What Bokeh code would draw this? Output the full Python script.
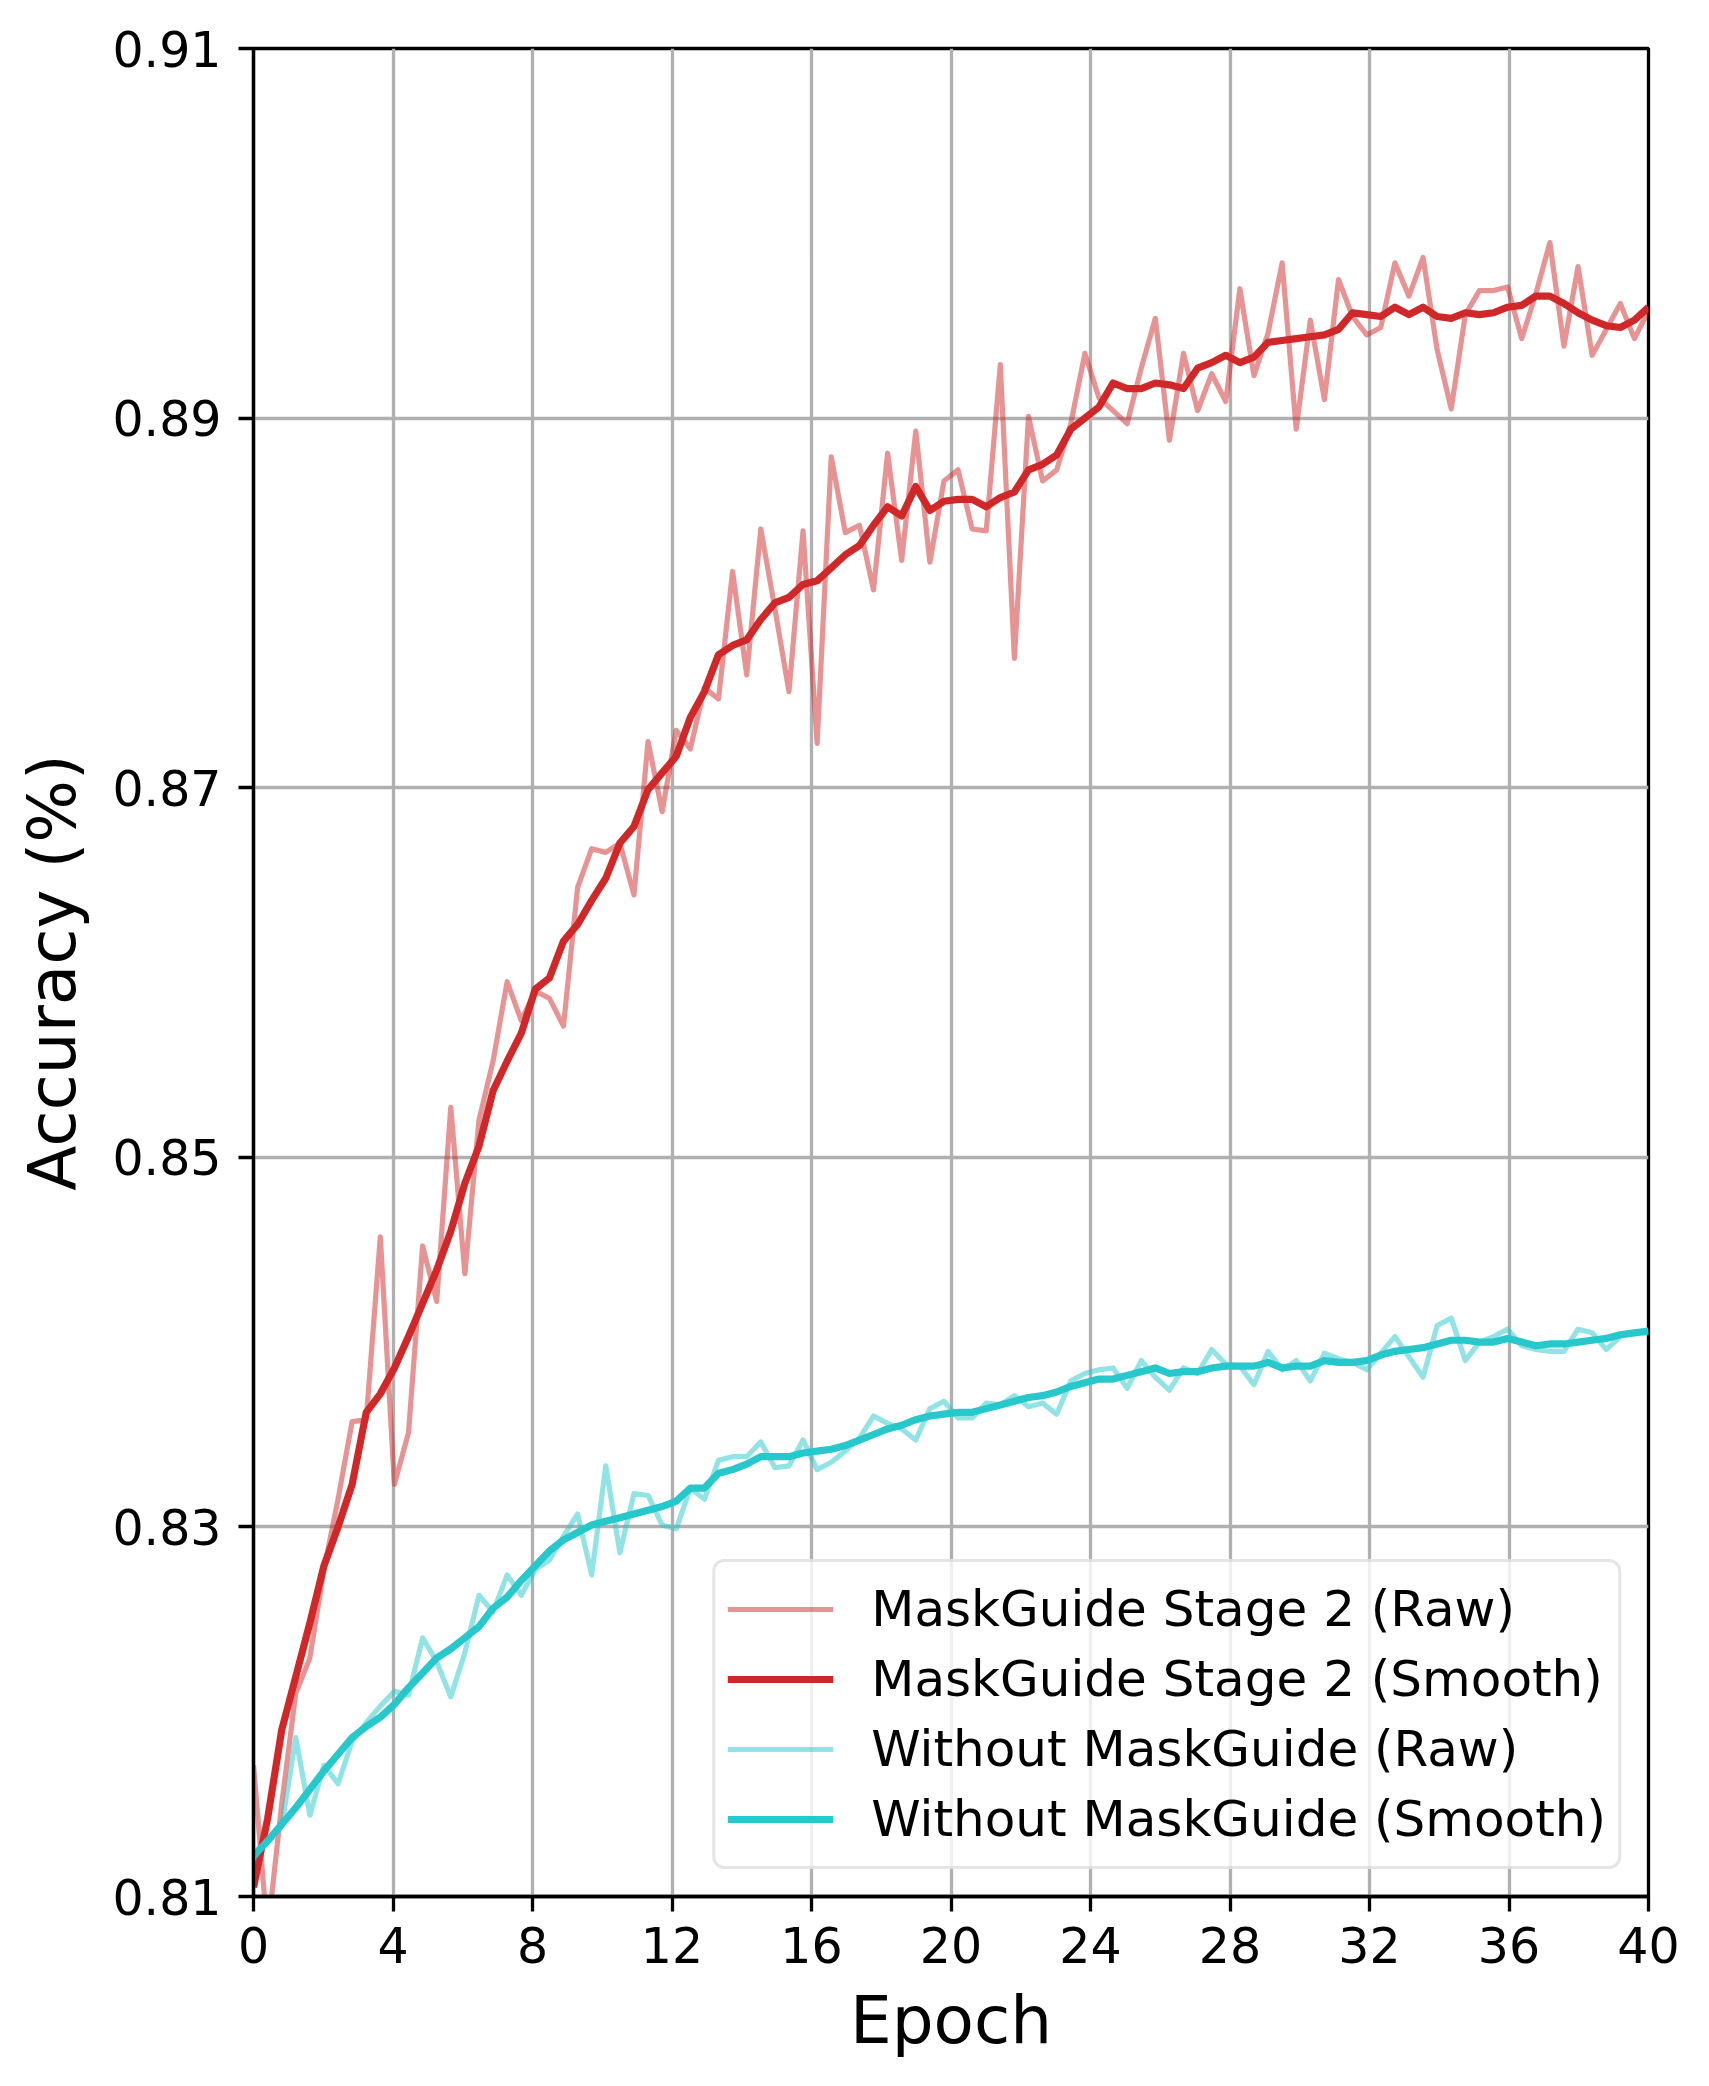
import numpy as np
from bokeh.plotting import figure
from bokeh.models import FixedTicker, PrintfTickFormatter, Legend, LegendItem, Range1d
from bokeh.embed import file_html
from bokeh.resources import INLINE

# x sampling (100 logged points between epoch 0 and 40)
epochs = np.linspace(0, 40, 100)

stage2_raw = [
    0.8171, 0.8080, 0.8150, 0.8210, 0.8229, 0.8277, 0.8315, 0.8357, 0.8358, 0.8457,
    0.8323, 0.8351, 0.8452, 0.8422, 0.8527, 0.8437, 0.8520, 0.8552, 0.8595, 0.8574,
    0.8590, 0.8586, 0.8571, 0.8646, 0.8667, 0.8665, 0.8670, 0.8642, 0.8725, 0.8687,
    0.8731, 0.8721, 0.8754, 0.8748, 0.8817, 0.8761, 0.8840, 0.8797, 0.8752, 0.8839,
    0.8724, 0.8879, 0.8838, 0.8842, 0.8807, 0.8881, 0.8823, 0.8893, 0.8822, 0.8866,
    0.8872, 0.8840, 0.8839, 0.8929, 0.8770, 0.8901, 0.8866, 0.8872, 0.8897, 0.8935,
    0.8911, 0.8904, 0.8897, 0.8927, 0.8954, 0.8888, 0.8935, 0.8904, 0.8924, 0.8909,
    0.8970, 0.8923, 0.8946, 0.8984, 0.8894, 0.8953, 0.8910, 0.8975, 0.8955, 0.8945,
    0.8949, 0.8984, 0.8966, 0.8987, 0.8937, 0.8905, 0.8956, 0.8969, 0.8969, 0.8971,
    0.8943, 0.8967, 0.8995, 0.8939, 0.8982, 0.8934, 0.8948, 0.8962, 0.8943, 0.8958,
]

stage2_smooth = [
    0.8105, 0.8142, 0.8190, 0.8219, 0.8248, 0.8279, 0.8300, 0.8323, 0.8362, 0.8372,
    0.8386, 0.8403, 0.8421, 0.8439, 0.8460, 0.8486, 0.8506, 0.8536, 0.8552, 0.8567,
    0.8591, 0.8597, 0.8617, 0.8626, 0.8639, 0.8651, 0.8670, 0.8679, 0.8699, 0.8708,
    0.8717, 0.8738, 0.8752, 0.8772, 0.8777, 0.8780, 0.8791, 0.8800, 0.8803, 0.8810,
    0.8812, 0.8819, 0.8826, 0.8831, 0.8842, 0.8852, 0.8847, 0.8863, 0.8850, 0.8855,
    0.8856, 0.8856, 0.8852, 0.8857, 0.8860, 0.8872, 0.8875, 0.8880, 0.8894, 0.8900,
    0.8906, 0.8919, 0.8916, 0.8916, 0.8919, 0.8918, 0.8916, 0.8927, 0.8930, 0.8934,
    0.8930, 0.8933, 0.8941, 0.8942, 0.8943, 0.8944, 0.8945, 0.8948, 0.8957, 0.8956,
    0.8955, 0.8960, 0.8956, 0.8960, 0.8955, 0.8954, 0.8957, 0.8956, 0.8957, 0.8960,
    0.8961, 0.8966, 0.8966, 0.8962, 0.8957, 0.8953, 0.8950, 0.8949, 0.8953, 0.8960,
]

without_raw = [
    0.8120, 0.8131, 0.8138, 0.8186, 0.8144, 0.8171, 0.8161, 0.8184, 0.8194, 0.8203,
    0.8211, 0.8209, 0.8240, 0.8227, 0.8208, 0.8232, 0.8263, 0.8254, 0.8274, 0.8263,
    0.8277, 0.8282, 0.8295, 0.8307, 0.8274, 0.8333, 0.8286, 0.8318, 0.8317, 0.8301,
    0.8299, 0.8321, 0.8315, 0.8336, 0.8338, 0.8338, 0.8346, 0.8332, 0.8333, 0.8347,
    0.8331, 0.8335, 0.8341, 0.8348, 0.8360, 0.8356, 0.8353, 0.8347, 0.8364, 0.8368,
    0.8359, 0.8359, 0.8367, 0.8366, 0.8371, 0.8365, 0.8367, 0.8361, 0.8379, 0.8383,
    0.8385, 0.8386, 0.8375, 0.8390, 0.8381, 0.8374, 0.8386, 0.8383, 0.8396, 0.8388,
    0.8387, 0.8377, 0.8395, 0.8385, 0.8390, 0.8379, 0.8394, 0.8391, 0.8389, 0.8385,
    0.8394, 0.8403, 0.8392, 0.8381, 0.8409, 0.8413, 0.8390, 0.8400, 0.8403, 0.8407,
    0.8398, 0.8396, 0.8395, 0.8395, 0.8407, 0.8405, 0.8396, 0.8403, 0.8405, 0.8405,
]

without_smooth = [
    0.8122, 0.8130, 0.8139, 0.8148, 0.8158, 0.8168, 0.8177, 0.8186, 0.8192, 0.8197,
    0.8204, 0.8213, 0.8221, 0.8229, 0.8234, 0.8240, 0.8246, 0.8256, 0.8262, 0.8271,
    0.8279, 0.8287, 0.8293, 0.8297, 0.8301, 0.8303, 0.8305, 0.8307, 0.8309, 0.8311,
    0.8314, 0.8321, 0.8321, 0.8329, 0.8331, 0.8334, 0.8338, 0.8338, 0.8338, 0.8340,
    0.8341, 0.8342, 0.8344, 0.8347, 0.8350, 0.8353, 0.8355, 0.8358, 0.8360, 0.8361,
    0.8362, 0.8362, 0.8364, 0.8366, 0.8368, 0.8370, 0.8371, 0.8373, 0.8376, 0.8378,
    0.8380, 0.8380, 0.8382, 0.8384, 0.8386, 0.8383, 0.8384, 0.8384, 0.8386, 0.8387,
    0.8387, 0.8387, 0.8389, 0.8386, 0.8387, 0.8387, 0.8390, 0.8389, 0.8389, 0.8390,
    0.8393, 0.8395, 0.8396, 0.8397, 0.8399, 0.8401, 0.8401, 0.8400, 0.8400, 0.8402,
    0.8400, 0.8398, 0.8399, 0.8399, 0.8400, 0.8401, 0.8402, 0.8404, 0.8405, 0.8406,
]

x_ticks = [0, 4, 8, 12, 16, 20, 24, 28, 32, 36, 40]
y_ticks = [0.81, 0.83, 0.85, 0.87, 0.89, 0.91]

labels = [
    "MaskGuide Stage 2 (Raw)",
    "MaskGuide Stage 2 (Smooth)",
    "Without MaskGuide (Raw)",
    "Without MaskGuide (Smooth)",
]

RED = "#d02828"
CYAN = "#26c8cb"
FONT = "DejaVu Sans"

p = figure(
    width=1709, height=2086,
    x_range=Range1d(0, 40), y_range=Range1d(0.81, 0.91),
    output_backend="svg", toolbar_location=None,
    min_border_left=253, min_border_right=61,
    min_border_top=48, min_border_bottom=190,
)
p.background_fill_color = "white"
p.border_fill_color = "white"
p.outline_line_color = "black"
p.outline_line_width = 3.3

r1 = p.line(epochs, stage2_raw, line_color=RED, line_alpha=0.5, line_width=5.2, line_join="round")
r2 = p.line(epochs, stage2_smooth, line_color=RED, line_width=7.2, line_join="round")
r3 = p.line(epochs, without_raw, line_color=CYAN, line_alpha=0.5, line_width=5.2, line_join="round")
r4 = p.line(epochs, without_smooth, line_color=CYAN, line_width=7.2, line_join="round")

for ax in (p.xaxis[0], p.yaxis[0]):
    ax.axis_line_color = "black"
    ax.axis_line_width = 3.3
    ax.major_tick_line_color = "black"
    ax.major_tick_line_width = 3.3
    ax.major_tick_out = 15
    ax.major_tick_in = 0
    ax.minor_tick_line_color = None
    ax.major_label_text_font = FONT
    ax.major_label_text_font_size = "49px"
    ax.major_label_text_color = "black"
    ax.axis_label_text_font = FONT
    ax.axis_label_text_font_size = "66px"
    ax.axis_label_text_font_style = "normal"
    ax.axis_label_text_color = "black"

p.xaxis.ticker = FixedTicker(ticks=x_ticks)
p.yaxis.ticker = FixedTicker(ticks=y_ticks)
p.yaxis.formatter = PrintfTickFormatter(format="%.2f")
p.xaxis.axis_label = "Epoch"
p.yaxis.axis_label = "Accuracy (%)"
p.xaxis.major_label_standoff = 15
p.yaxis.major_label_standoff = 17
p.xaxis.axis_label_standoff = 16
p.yaxis.axis_label_standoff = 18

p.xgrid.ticker = FixedTicker(ticks=x_ticks)
p.ygrid.ticker = FixedTicker(ticks=y_ticks)
for g in (p.xgrid[0], p.ygrid[0]):
    g.grid_line_color = "#b0b0b0"
    g.grid_line_width = 3.3

legend = Legend(
    items=[LegendItem(label=l, renderers=[r]) for l, r in zip(labels, [r1, r2, r3, r4])],
    location="bottom_right",
    margin=27,
    padding=12,
    spacing=0,
    glyph_width=106,
    glyph_height=70,
    label_height=70,
    label_standoff=38,
    label_text_font=FONT,
    label_text_font_size="50px",
    label_text_color="black",
    background_fill_color="white",
    background_fill_alpha=0.8,
    border_line_color="#cccccc",
    border_line_width=3.5,
    border_radius=12,
)
p.add_layout(legend)

open("out.html", "w").write(file_html(p, INLINE))
